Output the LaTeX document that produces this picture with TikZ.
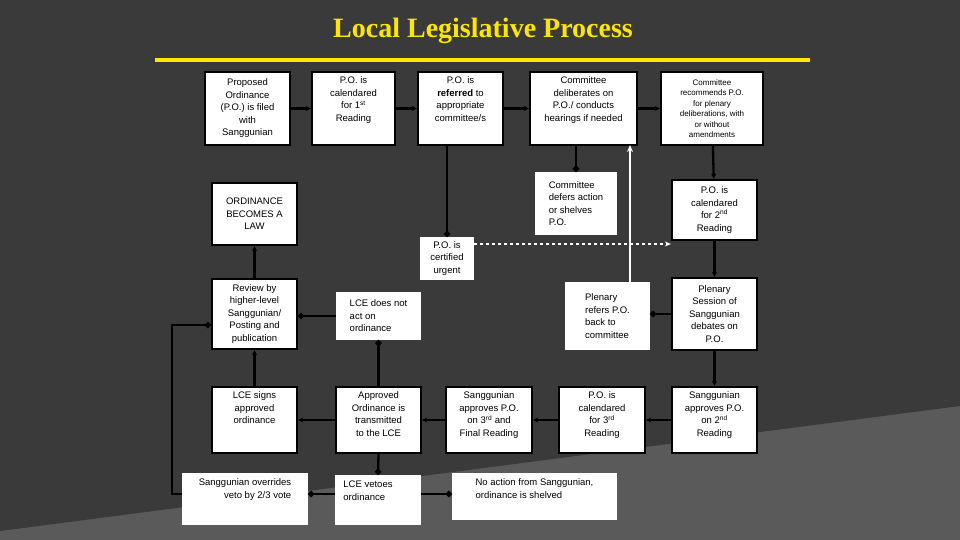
\documentclass[tikz,border=0pt]{standalone}
\usepackage{fontspec}
\setmainfont{Liberation Sans}
\newfontfamily\titlefont{Liberation Serif}
\usetikzlibrary{arrows.meta}
\definecolor{bgdark}{HTML}{3A3A3A}
\definecolor{bglight}{HTML}{5A5A5A}
\definecolor{ttl}{HTML}{FFE600}
\begin{document}
\begin{tikzpicture}[x=1pt,y=-1pt,
  bx/.style={draw=black,line width=2.3pt,fill=white,inner sep=1pt,align=center,font=\fontsize{9.5}{12.5}\selectfont},
  wb/.style={fill=white,inner sep=1pt,align=left,font=\fontsize{9.5}{12.5}\selectfont},
  lbl/.style={anchor=north,inner sep=0pt,yshift=-6pt,font=\fontsize{9.5}{12.5}\selectfont},
  topc/.style={label={[lbl,align=center]north:{#1}}},
  topl/.style={label={[lbl,align=left]north:{#1}}},
  topr/.style={label={[lbl,align=right]north:{#1}}},
  ar/.style={line width=2.3pt,-{Stealth[length=5pt,width=5pt]}},
  dt/.style={line width=2.3pt,-{Circle[length=6pt]}},
  wa/.style={draw=white,line width=1.5pt,-{Stealth[length=7pt,width=6pt]},white}]
\fill[bglight] (0,0) rectangle (960,540);
\fill[bgdark] (0,0) -- (960,0) -- (960,406) -- (0,531) -- cycle;
\useasboundingbox (0,0) rectangle (960,540);
\node[font=\titlefont\bfseries\fontsize{28}{30}\selectfont,text=ttl] (title) at (483,31) {Local Legislative Process};
\draw[ttl,line width=4pt] (155,60) -- (810,60);
% row 1
\node[bx,minimum width=85,minimum height=73] (b1) at (247.5,108.5) {Proposed\\Ordinance\\(P.O.) is filed\\with\\Sanggunian};
\node[bx,minimum width=83,minimum height=73,topc={P.O. is\\calendared\\for 1\textsuperscript{st}\\Reading}] (b2) at (353.5,108.5) {};
\node[bx,minimum width=85,minimum height=73,topc={P.O. is\\\textbf{referred} to\\appropriate\\committee/s}] (b3) at (460.5,108.5) {};
\node[bx,minimum width=107,minimum height=73,topc={Committee\\deliberates on\\P.O./ conducts\\hearings if needed}] (b4) at (583.5,108.5) {};
\node[bx,minimum width=102,minimum height=73,font=\fontsize{8}{10.5}\selectfont] (b5) at (712,108.5) {Committee\\recommends P.O.\\for plenary\\deliberations, with\\or without\\amendments};
% row 2
\node[bx,minimum width=85,minimum height=62] (law) at (254.5,214) {ORDINANCE\\BECOMES A\\LAW};
\node[wb,minimum width=82,minimum height=63] (defer) at (576,203.5) {Committee\\defers action\\or shelves\\P.O.};
\node[bx,minimum width=85,minimum height=60] (c2) at (714.5,210) {P.O. is\\calendared\\for 2\textsuperscript{nd}\\Reading};
\node[wb,minimum width=54,minimum height=43,align=center] (urg) at (447,258.5) {P.O. is\\certified\\urgent};
% row 3
\node[bx,minimum width=85,minimum height=70] (rev) at (254.5,314) {Review by\\higher-level\\Sanggunian/\\Posting and\\publication};
\node[wb,minimum width=85,minimum height=48] (noact) at (378.5,316) {LCE does not\\act on\\ordinance};
\node[wb,minimum width=85,minimum height=68] (refer) at (607.5,316) {Plenary\\refers P.O.\\back to\\committee};
\node[bx,minimum width=85,minimum height=72] (ps) at (714.5,314) {Plenary\\Session of\\Sanggunian\\debates on\\P.O.};
% row 4
\node[bx,minimum width=85,minimum height=66,topc={LCE signs\\approved\\ordinance}] (sign) at (254.5,420) {};
\node[bx,minimum width=85,minimum height=66,topc={Approved\\Ordinance is\\transmitted\\to the LCE}] (trans) at (378.5,420) {};
\node[bx,minimum width=86,minimum height=66,topc={Sanggunian\\approves P.O.\\on 3\textsuperscript{rd} and\\Final Reading}] (a3) at (489,420) {};
\node[bx,minimum width=86,minimum height=66,topc={P.O. is\\calendared\\for 3\textsuperscript{rd}\\Reading}] (c3) at (602,420) {};
\node[bx,minimum width=85,minimum height=66,topc={Sanggunian\\approves P.O.\\on 2\textsuperscript{nd}\\Reading}] (a2) at (714.5,420) {};
% row 5
\node[wb,minimum width=126,minimum height=52,topr={Sanggunian overrides\\veto by 2/3 vote}] (over) at (245,499) {};
\node[wb,minimum width=86,minimum height=50,label={[lbl,align=left,xshift=-10pt]north:{LCE vetoes\\ordinance}}] (veto) at (378,500) {};
\node[wb,minimum width=165,minimum height=47,topl={No action from Sanggunian,\\ordinance is shelved}] (none) at (534.5,496.5) {};
% connectors
\draw[ar] (b1) -- (b2);
\draw[ar] (b2) -- (b3);
\draw[ar] (b3) -- (b4);
\draw[ar] (b4) -- (b5);
\draw[ar] (b5) -- (c2);
\draw[ar] (c2) -- (ps);
\draw[ar] (ps) -- (a2);
\draw[ar] (a2) -- (c3);
\draw[ar] (c3) -- (a3);
\draw[ar] (a3) -- (trans);
\draw[ar] (trans) -- (sign);
\draw[ar] (sign) -- (rev);
\draw[ar] (rev) -- (law);
\draw[dt] (b4.south -| defer.north) -- (defer.north);
\draw[dt] (b3.south -| urg.north) -- (urg.north);
\draw[white,dashed,line width=1.5pt,-{Stealth[length=6pt,width=5pt]}] (urg.east |- 0,244) -- (c2.west |- 0,244);
\draw[dt] (ps.west) -- (refer.east |- ps.west);
\coordinate (rt) at (630,145);
\draw[wa] (refer.north -| rt) -- (rt);
\draw[dt] (trans.north) -- (noact.south);
\draw[line width=2.3pt,{Circle[length=6pt]}-] (rev.east |- noact.west) -- (noact.west);
\draw[dt] (trans.south) -- (veto.north);
\draw[dt] (veto.west |- 0,494) -- (over.east |- 0,494);
\draw[dt] (veto.east |- 0,494) -- (none.west |- 0,494);
\coordinate (lx) at (172,494);
\draw[line width=2.3pt,-{Circle[length=6pt]}] (over.west |- lx) -- (lx) -- (lx |- 0,325) -- (rev.west |- 0,325);
\end{tikzpicture}
\end{document}
